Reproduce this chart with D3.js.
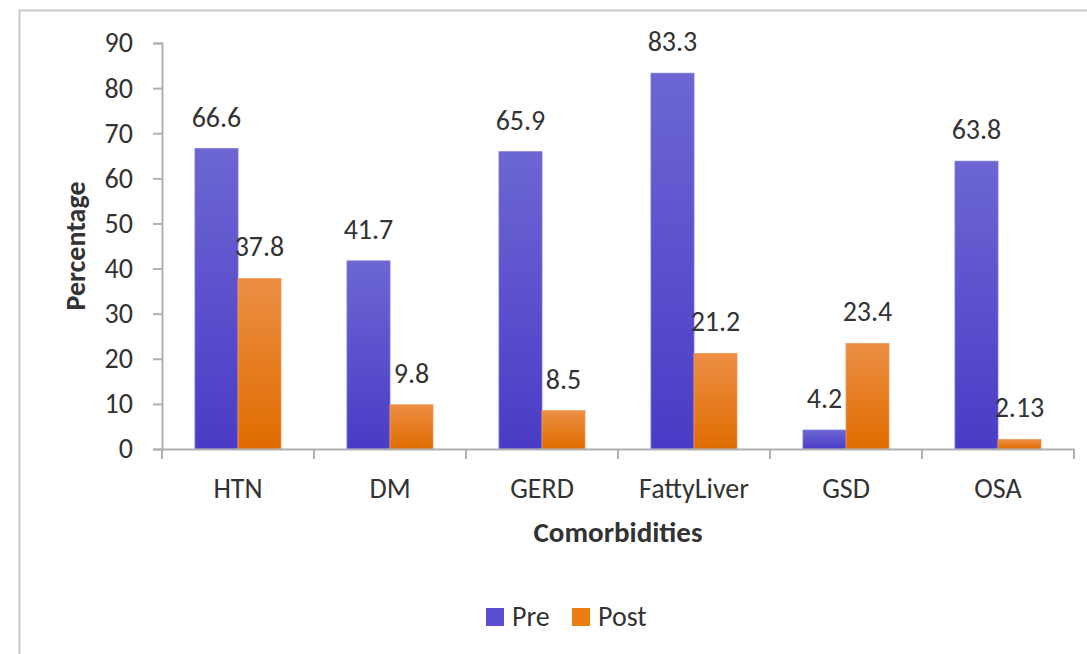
<!DOCTYPE html>
<html>
<head>
<meta charset="utf-8">
<script src="https://cdn.jsdelivr.net/npm/d3@7"></script>
<style>
  html, body { margin: 0; padding: 0; background: #fff; }
  svg { display: block; }
  text { font-family: Carlito, "Open Sans", "Noto Sans", sans-serif; fill: #333; }
</style>
</head>
<body>
<svg id="chart" width="1087" height="654"></svg>
<script>
// Comorbidity prevalence before and after surgery (%)
const categories = ["HTN", "DM", "GERD", "FattyLiver", "GSD", "OSA"];
const preValues  = [66.6, 41.7, 65.9, 83.3, 4.2, 63.8];
const postValues = [37.8, 9.8, 8.5, 21.2, 23.4, 2.13];
const postLabels = ["37.8", "9.8", "8.5", "21.2", "23.4", "2.13"];
const preLabels  = ["66.6", "41.7", "65.9", "83.3", "4.2", "63.8"];
const seriesNames = ["Pre", "Post"];
const yTicks = [0, 10, 20, 30, 40, 50, 60, 70, 80, 90];

const FONT = 'Carlito, "Open Sans", sans-serif';
const svg = d3.select("#chart");

// outer frame
svg.append("rect")
  .attr("x", 19.5).attr("y", 10.5)
  .attr("width", 1100).attr("height", 700)
  .attr("fill", "none").attr("stroke", "#c8c8c8").attr("stroke-width", 2);

const plot = { left: 162, right: 1074, top: 43, bottom: 449 };

const x = d3.scaleBand().domain(categories).range([plot.left, plot.right])
  .paddingInner(0.434).paddingOuter(0.217);
const xs = d3.scaleBand().domain(seriesNames).range([0, x.bandwidth()]);
const y = d3.scaleLinear().domain([0, 90]).range([plot.bottom, plot.top]);

// gradients
const defs = svg.append("defs");
function grad(id, top, bottom) {
  const g = defs.append("linearGradient").attr("id", id)
    .attr("x1", 0).attr("y1", 0).attr("x2", 0).attr("y2", 1);
  g.append("stop").attr("offset", "0%").attr("stop-color", top);
  g.append("stop").attr("offset", "100%").attr("stop-color", bottom);
}
grad("gPre", "#6c66d3", "#4a3bc6");
grad("gPost", "#ec8e44", "#e06c00");
const fills = { Pre: "url(#gPre)", Post: "url(#gPost)" };
const strokes = { Pre: "#7a74d8", Post: "#ef9a55" };
const legendFills = { Pre: "#5a4fd0", Post: "#ea7e12" };

// y axis
const yAxis = d3.axisLeft(y).tickValues(yTicks).tickSize(9).tickPadding(20);
const gy = svg.append("g").attr("transform", `translate(${plot.left},0)`).call(yAxis);
gy.select(".domain").attr("stroke", "#b0b0b0").attr("stroke-width", 2);
gy.selectAll(".tick line").attr("stroke", "#b0b0b0").attr("stroke-width", 2);
gy.selectAll(".tick text").attr("font-size", 28).attr("fill", "#333")
  .style("font-family", FONT);

// bars
const rows = categories.map((c, i) => ({ c, Pre: preValues[i], Post: postValues[i], i }));
seriesNames.forEach(s => {
  svg.append("g").selectAll("rect").data(rows).join("rect")
    .attr("x", d => x(d.c) + xs(s))
    .attr("width", xs.bandwidth())
    .attr("y", d => y(d[s]))
    .attr("height", d => y(0) - y(d[s]))
    .attr("fill", fills[s])
    .attr("stroke", strokes[s]).attr("stroke-width", 0.8);
});

// x axis
const xAxis = d3.axisBottom(x).tickSize(0).tickPadding(29);
const gx = svg.append("g").attr("transform", `translate(0,${plot.bottom})`).call(xAxis);
gx.select(".domain").attr("stroke", "#b0b0b0").attr("stroke-width", 2);
gx.selectAll(".tick text").attr("font-size", 28).attr("fill", "#333")
  .style("font-family", FONT);
// category separators
const bounds = categories.map(c => x(c) - x.step() * x.paddingInner() / 2).concat([plot.right]);
bounds[0] = plot.left;
gx.selectAll("line.sep").data(bounds).join("line").attr("class", "sep")
  .attr("x1", d => d).attr("x2", d => d).attr("y1", 0).attr("y2", 10)
  .attr("stroke", "#b0b0b0").attr("stroke-width", 2);

// value labels
seriesNames.forEach(s => {
  const labs = s === "Pre" ? preLabels : postLabels;
  svg.append("g").selectAll("text").data(rows).join("text")
    .attr("x", d => x(d.c) + xs(s) + xs.bandwidth() / 2)
    .attr("y", d => y(d[s]) - 22)
    .attr("text-anchor", "middle")
    .attr("font-size", 28)
    .text(d => labs[d.i]);
});

// axis titles
svg.append("text")
  .attr("transform", `translate(85,246) rotate(-90)`)
  .attr("text-anchor", "middle").attr("font-size", 28).attr("font-weight", "bold")
  .text("Percentage");
svg.append("text")
  .attr("x", (plot.left + plot.right) / 2).attr("y", 542)
  .attr("text-anchor", "middle").attr("font-size", 29).attr("font-weight", "bold")
  .text("Comorbidities");

// legend
const legendX = [486, 572];
const lg = svg.append("g");
seriesNames.forEach((s, i) => {
  lg.append("rect").attr("x", legendX[i]).attr("y", 608).attr("width", 18).attr("height", 18)
    .attr("fill", legendFills[s]);
  lg.append("text").attr("x", legendX[i] + 26).attr("y", 626)
    .attr("font-size", 28).text(s);
});
</script>
</body>
</html>
